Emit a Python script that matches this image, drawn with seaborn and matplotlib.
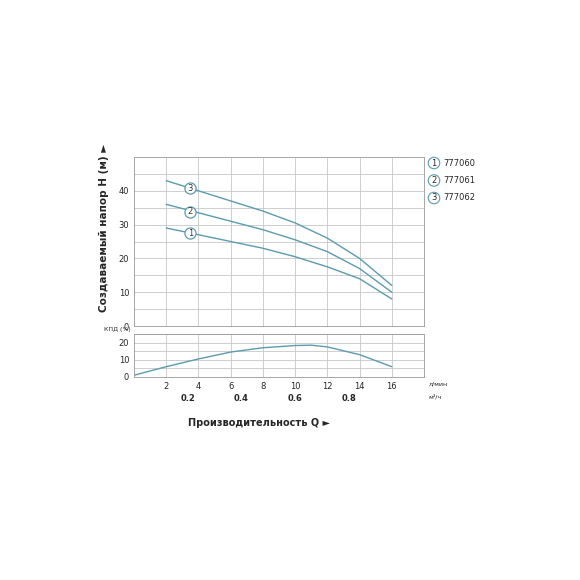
import numpy as np
import matplotlib.pyplot as plt
import seaborn as sns

sns.set_style("white")
plt.rcParams["font.family"] = ["DejaVu Sans"]

q = [2, 4, 6, 8, 10, 12, 14, 16]
h1 = [29, 27, 25, 23, 20.5, 17.5, 14, 8]
h2 = [36, 33.5, 31, 28.5, 25.5, 22, 17, 10]
h3 = [43, 40, 37, 34, 30.5, 26, 20, 12]
q_eff = [0, 2, 4, 6, 8, 10, 11, 12, 14, 16]
eff = [1, 6, 10.5, 14.5, 17, 18.3, 18.5, 17.5, 13, 6]
models = ["777060", "777061", "777062"]
label_pos = [(3.5, 27.5), (3.5, 33.8), (3.5, 40.8)]

LINE = "#5b9bb0"
GRID = "#c8c8c8"

fig = plt.figure(figsize=(5.8, 5.8), dpi=100)
ax = fig.add_axes([134 / 580, 1 - 326 / 580, 290 / 580, 169 / 580])
ax2 = fig.add_axes([134 / 580, 1 - 377 / 580, 290 / 580, 43 / 580])

for h in [h1, h2, h3]:
    sns.lineplot(x=q, y=h, ax=ax, color=LINE, lw=1.0)
for i, (x, y) in enumerate(label_pos):
    ax.plot(x, y, "o", ms=8, mfc="white", mec=LINE, mew=0.9)
    ax.text(x, y, str(i + 1), ha="center", va="center", fontsize=6, color="#333")

ax.set_xlim(0, 18)
ax.set_ylim(0, 50)
ax.set_xticks(range(2, 18, 2))
ax.set_xticklabels([])
ax.set_yticks([0, 10, 20, 30, 40])
ax.set_yticks(np.arange(5, 50, 10), minor=True)
ax.grid(True, which="both", color=GRID, lw=0.6)
ax.tick_params(labelsize=6, length=0)
ax.set_ylabel("Создаваемый напор H (м) ►", fontsize=7.5, fontweight="bold")
ax.yaxis.set_label_coords(-0.085, 0.58)

sns.lineplot(x=q_eff, y=eff, ax=ax2, color=LINE, lw=1.0)
ax2.set_xlim(0, 18)
ax2.set_ylim(0, 25)
ax2.set_xticks(range(2, 18, 2))
ax2.set_yticks([0, 10, 20])
ax2.set_yticks([5, 15, 25], minor=True)
ax2.grid(True, which="both", color=GRID, lw=0.6)
ax2.tick_params(labelsize=6, length=0)
ax2.text(-0.2, 26, "КПД (%)", fontsize=4.5, ha="right", va="bottom")
ax2.text(18.3, -2.5, "л/мин", fontsize=4.5, va="top")
for m3 in [0.2, 0.4, 0.6, 0.8]:
    ax2.text(m3 * 1000 / 60, -10, f"{m3}", fontsize=6, ha="center", va="top",
             fontweight="bold")
ax2.text(18.3, -10, "м³/ч", fontsize=4.5, va="top")

for a in (ax, ax2):
    for s in a.spines.values():
        s.set_color("#999")
        s.set_linewidth(0.6)

for i, m in enumerate(models):
    y = 1 - (163 + i * 17.5) / 580
    fig.text(434 / 580, y, str(i + 1), fontsize=6, ha="center", va="center",
             bbox=dict(boxstyle="circle,pad=0.15", fc="white", ec=LINE, lw=0.8))
    fig.text(443 / 580, y, m, fontsize=6, va="center")

fig.text(330 / 580, 1 - 423 / 580, "Производительность Q ►", fontsize=7,
         fontweight="bold", ha="right", va="center")

fig.savefig("out.png", dpi=100)
